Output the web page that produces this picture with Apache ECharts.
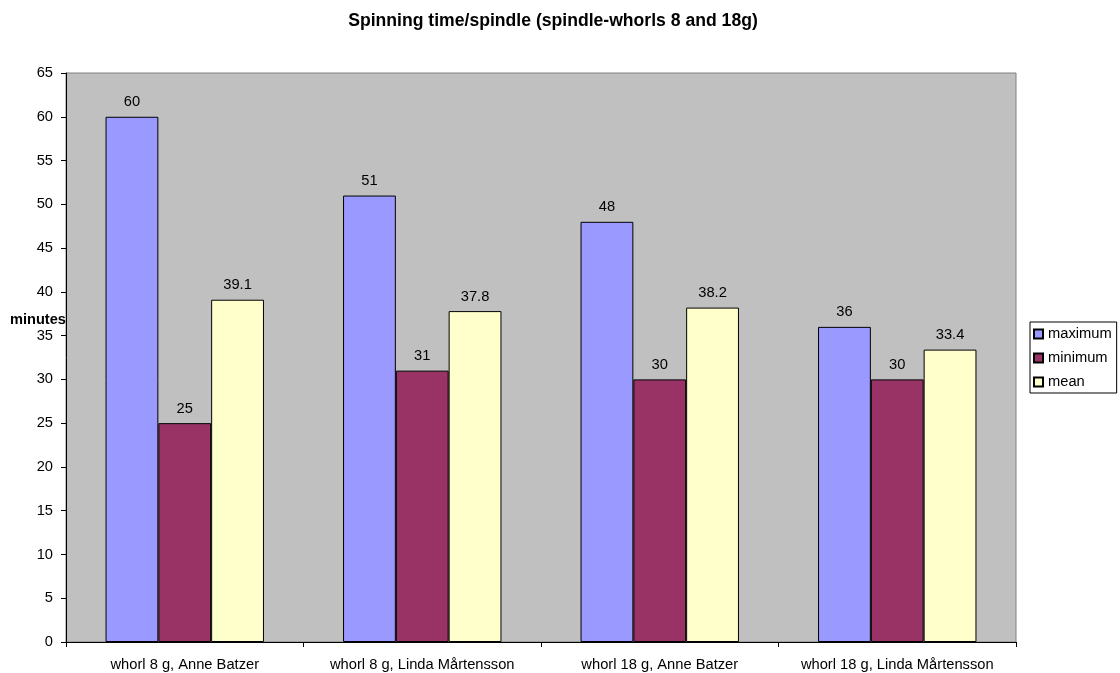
<!DOCTYPE html>
<html>
<head>
<meta charset="utf-8">
<script src="https://cdn.jsdelivr.net/npm/echarts@6/dist/echarts.min.js"></script>
<style>
html,body{margin:0;padding:0;background:#fff;}
#chart{width:1120px;height:673px;}
</style>
</head>
<body>
<div id="chart"></div>
<script>
const categories = ['whorl 8 g, Anne Batzer', 'whorl 8 g, Linda Mårtensson', 'whorl 18 g, Anne Batzer', 'whorl 18 g, Linda Mårtensson'];
const seriesNames = ['maximum', 'minimum', 'mean'];
const maximumValues = [60, 51, 48, 36];
const minimumValues = [25, 31, 30, 30];
const meanValues = [39.1, 37.8, 38.2, 33.4];
const colors = ['#9999FF', '#993366', '#FFFFCC'];

const FONT = 'Liberation Sans, Arial, sans-serif';
const FS = 14.7;

const chart = echarts.init(document.getElementById('chart'), null, {renderer: 'canvas'});

function barSeries(name, data, color) {
  return {
    name: name,
    type: 'bar',
    data: data,
    barGap: '0%',
    barCategoryGap: '33.3%',
    itemStyle: {color: color, borderColor: '#000', borderWidth: 1},
    label: {
      show: true, position: 'top', distance: 7,
      color: '#000', fontFamily: FONT, fontSize: FS
    },
    emphasis: {disabled: true},
    animation: false
  };
}

chart.setOption({
  animation: false,
  backgroundColor: '#fff',
  title: [{
    text: 'Spinning time/spindle (spindle-whorls 8 and 18g)',
    left: 548, top: 7, textAlign: 'center',
    textStyle: {fontFamily: FONT, fontSize: 17.6, fontWeight: 'bold', color: '#000'}
  }, {
    text: 'minutes',
    left: 10, top: 312,
    padding: 0,
    textStyle: {fontFamily: FONT, fontSize: 14.6, fontWeight: 'bold', color: '#000'}
  }],
  legend: {
    orient: 'vertical',
    left: 1030, top: 322,
    data: seriesNames,
    icon: 'rect',
    itemWidth: 9, itemHeight: 9,
    itemGap: 8,
    itemTextGap: 5,
    padding: [4, 5, 3, 3],
    backgroundColor: '#fff',
    borderColor: '#000',
    borderWidth: 1,
    borderRadius: 0,
    textStyle: {fontFamily: FONT, fontSize: FS, color: '#000', lineHeight: 16}
  },
  grid: {
    left: 66, top: 73, right: 104, bottom: 31,
    show: true, backgroundColor: '#C0C0C0', borderColor: '#808080', borderWidth: 1,
    containLabel: false
  },
  xAxis: {
    type: 'category',
    data: categories,
    boundaryGap: true,
    axisLine: {lineStyle: {color: '#000', width: 1}},
    axisTick: {show: true, length: 5, alignWithLabel: false, lineStyle: {color: '#000'}},
    axisLabel: {color: '#000', fontFamily: FONT, fontSize: FS, margin: 15, interval: 0},
    splitLine: {show: false}
  },
  yAxis: {
    type: 'value',
    min: 0, max: 65, interval: 5,
    axisLine: {show: true, lineStyle: {color: '#000', width: 1}},
    axisTick: {show: true, length: 5, lineStyle: {color: '#000'}},
    axisLabel: {color: '#000', fontFamily: FONT, fontSize: FS, margin: 13},
    splitLine: {show: false}
  },
  series: [
    barSeries(seriesNames[0], maximumValues, colors[0]),
    barSeries(seriesNames[1], minimumValues, colors[1]),
    barSeries(seriesNames[2], meanValues, colors[2])
  ]
});
</script>
</body>
</html>
